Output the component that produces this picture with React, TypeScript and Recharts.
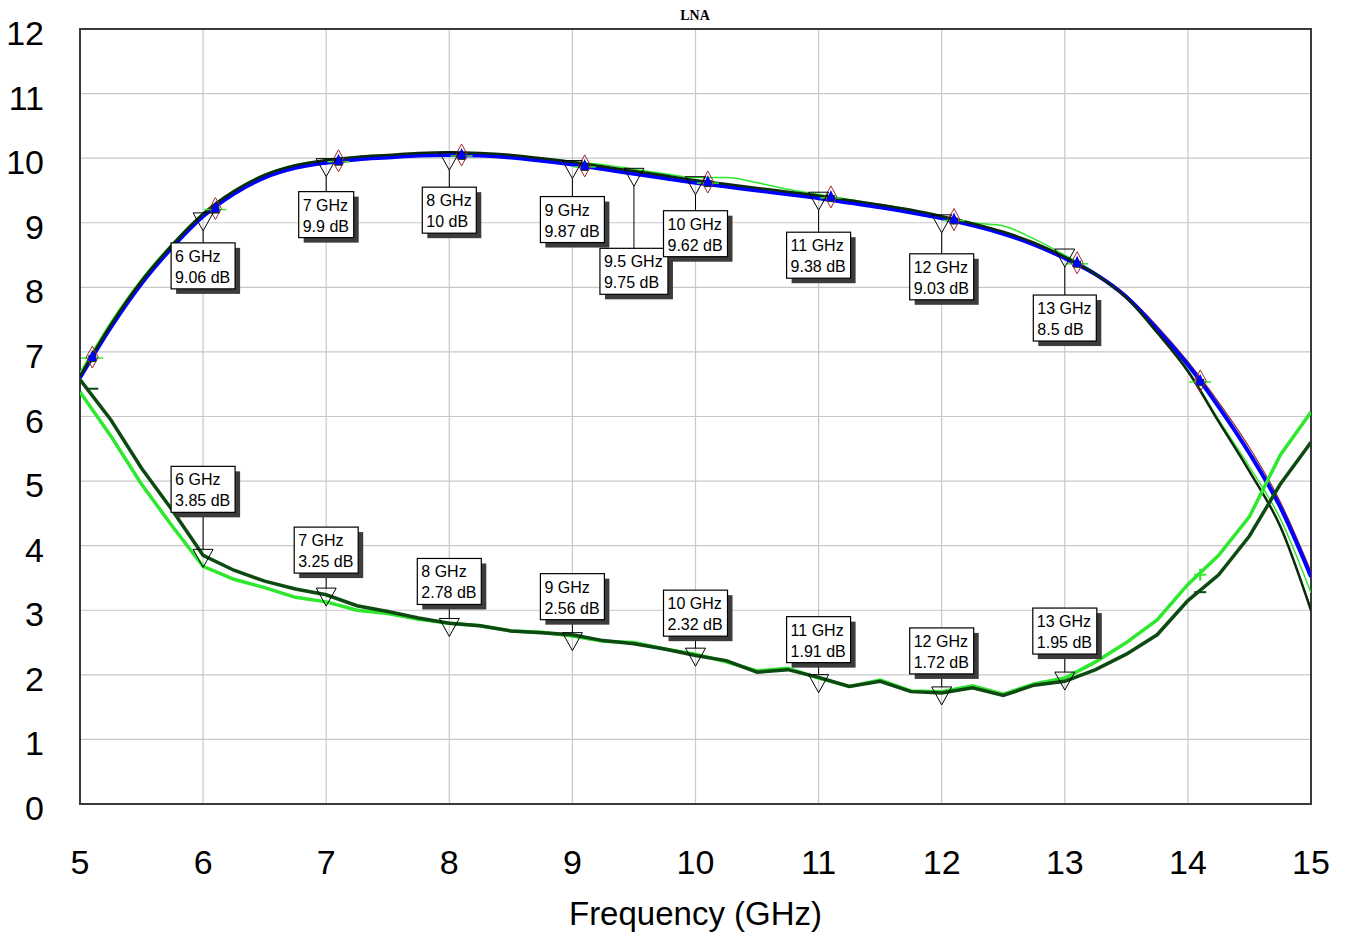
import { ComposedChart, Line, Scatter, XAxis, YAxis, CartesianGrid, ReferenceArea, Label } from 'recharts'

const FONT = '"Liberation Sans", Arial, sans-serif'

// ── data ────────────────────────────────────────────────────────────────────

const freqs = [
  5, 5.25, 5.5, 5.75, 6, 6.25, 6.5, 6.75, 7, 7.25, 7.5, 7.75, 8, 8.25, 8.5, 8.75, 9, 9.25, 9.5, 9.75,
  10, 10.25, 10.5, 10.75, 11, 11.25, 11.5, 11.75, 12, 12.25, 12.5, 12.75, 13, 13.25, 13.5, 13.75, 14,
  14.25, 14.5, 14.75, 15,
]

const gainBlue = [
  6.6, 7.38, 8.06, 8.62, 9.1, 9.45, 9.7, 9.85, 9.93, 9.98, 10.01, 10.04, 10.05, 10.04, 10.01, 9.96,
  9.9, 9.83, 9.76, 9.69, 9.62, 9.56, 9.5, 9.44, 9.38, 9.31, 9.24, 9.16, 9.07, 8.96, 8.83, 8.66, 8.45,
  8.2, 7.85, 7.35, 6.8, 6.15, 5.43, 4.6, 3.52,
]
const gainDark = [
  6.62, 7.42, 8.1, 8.66, 9.14, 9.49, 9.74, 9.89, 9.97, 10.02, 10.05, 10.08, 10.09, 10.08, 10.05, 10.0,
  9.94, 9.87, 9.8, 9.73, 9.66, 9.6, 9.54, 9.48, 9.42, 9.35, 9.28, 9.2, 9.1, 8.99, 8.86, 8.69, 8.47,
  8.2, 7.84, 7.3, 6.7, 5.92, 5.15, 4.3, 3.0,
]
const gainRed = [
  6.62, 7.4, 8.08, 8.64, 9.12, 9.47, 9.72, 9.87, 9.95, 10.0, 10.03, 10.06, 10.07, 10.06, 10.03, 9.98,
  9.92, 9.85, 9.78, 9.7, 9.62, 9.57, 9.51, 9.45, 9.39, 9.32, 9.25, 9.17, 9.08, 8.97, 8.84, 8.68, 8.47,
  8.22, 7.88, 7.4, 6.85, 6.22, 5.52, 4.68, 3.6,
]
const gainGreen = [
  6.68, 7.46, 8.13, 8.68, 9.15, 9.5, 9.75, 9.9, 9.97, 10.02, 10.05, 10.07, 10.08, 10.07, 10.04, 10.0,
  9.95, 9.9, 9.83, 9.76, 9.7, 9.7, 9.62, 9.52, 9.44, 9.36, 9.28, 9.2, 9.1, 9.0, 8.95, 8.75, 8.5,
  8.22, 7.84, 7.3, 6.72, 5.95, 5.22, 4.42, 3.27,
]
const nfDark = [
  6.57, 5.95, 5.2, 4.55, 3.85, 3.62, 3.45, 3.33, 3.24, 3.07, 2.98, 2.88, 2.8, 2.76, 2.68, 2.65, 2.62,
  2.53, 2.48, 2.4, 2.3, 2.22, 2.04, 2.08, 1.96, 1.82, 1.9, 1.74, 1.72, 1.8, 1.68, 1.84, 1.9, 2.08,
  2.32, 2.62, 3.15, 3.55, 4.15, 4.95, 5.6,
]
const nfBright = [
  6.38, 5.7, 4.95, 4.3, 3.68, 3.48, 3.35, 3.2, 3.13, 3.0, 2.95, 2.86, 2.8, 2.76, 2.68, 2.66, 2.6,
  2.52, 2.5, 2.4, 2.32, 2.2, 2.06, 2.1, 1.95, 1.82, 1.92, 1.75, 1.74, 1.83, 1.7, 1.86, 1.95, 2.2,
  2.5, 2.85, 3.4, 3.85, 4.45, 5.4, 6.07,
]

// trace symbols drawn by the simulator every 1 GHz from 5.1 GHz
const symFreqs = [5.1, 6.1, 7.1, 8.1, 9.1, 10.1, 11.1, 12.1, 13.1, 14.1]
const symGain = [6.92, 9.22, 9.96, 10.05, 9.88, 9.63, 9.4, 9.05, 8.38, 6.55]
const nfDarkSymFreqs = [5.1, 14.1]
const nfDarkSymDb = [6.43, 3.28]
const nfBrightSymFreqs = [14.1]
const nfBrightSymDb = [3.55]

// marker readouts
const gainMarkerFreqs = [6, 7, 8, 9, 9.5, 10, 11, 12, 13]
const gainMarkerDb = [9.06, 9.9, 10, 9.87, 9.75, 9.62, 9.38, 9.03, 8.5]
const nfMarkerFreqs = [6, 7, 8, 9, 10, 11, 12, 13]
const nfMarkerDb = [3.85, 3.25, 2.78, 2.56, 2.32, 1.91, 1.72, 1.95]

const xTicks = [5, 6, 7, 8, 9, 10, 11, 12, 13, 14, 15]
const yTicks = [0, 1, 2, 3, 4, 5, 6, 7, 8, 9, 10, 11, 12]

// callout distance from the marked point (px)
const gainLead = [24, 27, 29, 30, 74, 28, 34, 33, 40]
const nfLead = [43, 21, 20, 19, 18, 18, 19, 24]

const rows = freqs.map((f, i) => ({
  f,
  gBlue: gainBlue[i],
  gDark: gainDark[i],
  gRed: gainRed[i],
  gGreen: gainGreen[i],
  nDark: nfDark[i],
  nBright: nfBright[i],
}))

const gainSyms = symFreqs.map((f, i) => ({ f, v: symGain[i] }))
const nfDarkSyms = nfDarkSymFreqs.map((f, i) => ({ f, v: nfDarkSymDb[i] }))
const nfBrightSyms = nfBrightSymFreqs.map((f, i) => ({ f, v: nfBrightSymDb[i] }))
const gainMarkers = gainMarkerFreqs.map((f, i) => ({ f, v: gainMarkerDb[i], below: true, lead: gainLead[i] }))
const nfMarkers = nfMarkerFreqs.map((f, i) => ({ f, v: nfMarkerDb[i], below: false, lead: nfLead[i] }))

// ── helpers ─────────────────────────────────────────────────────────────────

const BOX_FONT = 16
let ctx: CanvasRenderingContext2D | null = null
function textWidth(s: string) {
  if (!ctx) ctx = document.createElement('canvas').getContext('2d')
  if (!ctx) return s.length * 8.8
  ctx.font = `${BOX_FONT}px "Liberation Sans"`
  return ctx.measureText(s).width
}

function Callout(props: any) {
  const { cx, cy, payload } = props
  if (cx == null || cy == null) return null
  const l1 = `${payload.f} GHz`
  const l2 = `${payload.v} dB`
  const w = Math.round(Math.max(textWidth(l1), textWidth(l2))) + 9
  const h = 46
  const left = cx - w / 2
  const top = payload.below ? cy + payload.lead : cy - payload.lead - h
  const triTop = cy - 6
  const triTip = cy + 12
  const y1 = payload.below ? triTip : top + h
  const y2 = payload.below ? top : triTop
  return (
    <g>
      <line x1={cx} y1={y1} x2={cx} y2={y2} stroke="#000" strokeWidth={1} />
      <polygon points={`${cx - 10},${triTop} ${cx + 10},${triTop} ${cx},${triTip}`} fill="none" stroke="#000" strokeWidth={1} />
      <rect x={left + 5} y={top + 5} width={w} height={h} fill="#3c3c3c" />
      <rect x={left} y={top} width={w} height={h} fill="#fff" stroke="#000" strokeWidth={1.2} />
      <text x={left + 4} y={top + 19} fontSize={BOX_FONT} fontFamily={FONT} fill="#000">{l1}</text>
      <text x={left + 4} y={top + 40} fontSize={BOX_FONT} fontFamily={FONT} fill="#000">{l2}</text>
    </g>
  )
}

function GainSymbol(props: any) {
  const { cx, cy } = props
  if (cx == null || cy == null) return null
  return (
    <g>
      <line x1={cx - 11} y1={cy + 1} x2={cx + 11} y2={cy + 1} stroke="#2ee82e" strokeWidth={1.5} />
      <rect x={cx - 4} y={cy - 2} width={8} height={7} fill="#0b3d0b" />
      <polygon points={`${cx},${cy - 7} ${cx + 5},${cy + 4} ${cx - 5},${cy + 4}`} fill="#0000ff" />
      <polygon points={`${cx},${cy - 11} ${cx + 6},${cy} ${cx},${cy + 11} ${cx - 6},${cy}`} fill="none" stroke="#a0282a" strokeWidth={1} />
    </g>
  )
}

function DarkTick(props: any) {
  const { cx, cy } = props
  if (cx == null || cy == null) return null
  return <line x1={cx - 6} y1={cy} x2={cx + 6} y2={cy} stroke="#0d4a12" strokeWidth={2} />
}

function BrightCross(props: any) {
  const { cx, cy } = props
  if (cx == null || cy == null) return null
  return (
    <g>
      <line x1={cx - 6} y1={cy} x2={cx + 6} y2={cy} stroke="#2ee82e" strokeWidth={2} />
      <line x1={cx} y1={cy - 6} x2={cx} y2={cy + 6} stroke="#2ee82e" strokeWidth={2} />
    </g>
  )
}

function XTick({ x, y, payload }: any) {
  return (
    <text x={x} y={y + 70} textAnchor="middle" fontSize={34} fontFamily={FONT} fill="#000">
      {payload.value}
    </text>
  )
}

function YTick({ x, y, payload }: any) {
  return (
    <text x={x - 36} y={y + 16} textAnchor="end" fontSize={34} fontFamily={FONT} fill="#000">
      {payload.value}
    </text>
  )
}

export default function App() {
  return (
    <div style={{ position: 'absolute', left: 0, top: 0, width: 1346, height: 934, background: '#fff' }}>
      <div
        style={{
          position: 'absolute',
          left: 0,
          width: 1390,
          top: 8,
          textAlign: 'center',
          fontFamily: '"Liberation Serif", "Times New Roman", serif',
          fontWeight: 'bold',
          fontSize: 14,
          color: '#000',
        }}
      >
        LNA
      </div>
      <ComposedChart width={1346} height={934} data={rows} margin={{ top: 29, right: 35, bottom: 0, left: 0 }}>
        <CartesianGrid stroke="#c8c8c8" strokeWidth={1.2} />
        <XAxis
          dataKey="f"
          type="number"
          domain={[5, 15]}
          ticks={xTicks}
          allowDataOverflow
          axisLine={false}
          tickLine={false}
          tickSize={0}
          tickMargin={0}
          height={130}
          tick={<XTick />}
        >
          <Label
            content={({ viewBox }: any) => (
              <text
                x={viewBox.x + viewBox.width / 2}
                y={viewBox.y + 121}
                textAnchor="middle"
                fontSize={33}
                fontFamily={FONT}
                fill="#000"
              >
                Frequency (GHz)
              </text>
            )}
          />
        </XAxis>
        <YAxis
          type="number"
          domain={[0, 12]}
          ticks={yTicks}
          allowDataOverflow
          axisLine={false}
          tickLine={false}
          tickSize={0}
          tickMargin={0}
          width={80}
          tick={<YTick />}
        />
        <ReferenceArea x1={5} x2={15} y1={0} y2={12} fill="none" stroke="#3a3a3a" strokeWidth={2} ifOverflow="visible" />

        <Line type="monotone" dataKey="gGreen" stroke="#2ee82e" strokeWidth={1.5} dot={false} isAnimationActive={false} />
        <Line type="monotone" dataKey="gRed" stroke="#a0282a" strokeWidth={1.2} dot={false} isAnimationActive={false} />
        <Line type="monotone" dataKey="gBlue" stroke="#0000ff" strokeWidth={4} dot={false} isAnimationActive={false} />
        <Line type="monotone" dataKey="gDark" stroke="#0b2a0b" strokeWidth={2.5} dot={false} isAnimationActive={false} />
        <Line type="linear" dataKey="nBright" stroke="#2ee82e" strokeWidth={3.5} dot={false} isAnimationActive={false} />
        <Line type="linear" dataKey="nDark" stroke="#0d4a12" strokeWidth={3.5} dot={false} isAnimationActive={false} />

        <Scatter data={gainSyms} dataKey="v" shape={<GainSymbol />} isAnimationActive={false} />
        <Scatter data={nfDarkSyms} dataKey="v" shape={<DarkTick />} isAnimationActive={false} />
        <Scatter data={nfBrightSyms} dataKey="v" shape={<BrightCross />} isAnimationActive={false} />
        <Scatter data={gainMarkers} dataKey="v" shape={<Callout />} isAnimationActive={false} />
        <Scatter data={nfMarkers} dataKey="v" shape={<Callout />} isAnimationActive={false} />
      </ComposedChart>
    </div>
  )
}
